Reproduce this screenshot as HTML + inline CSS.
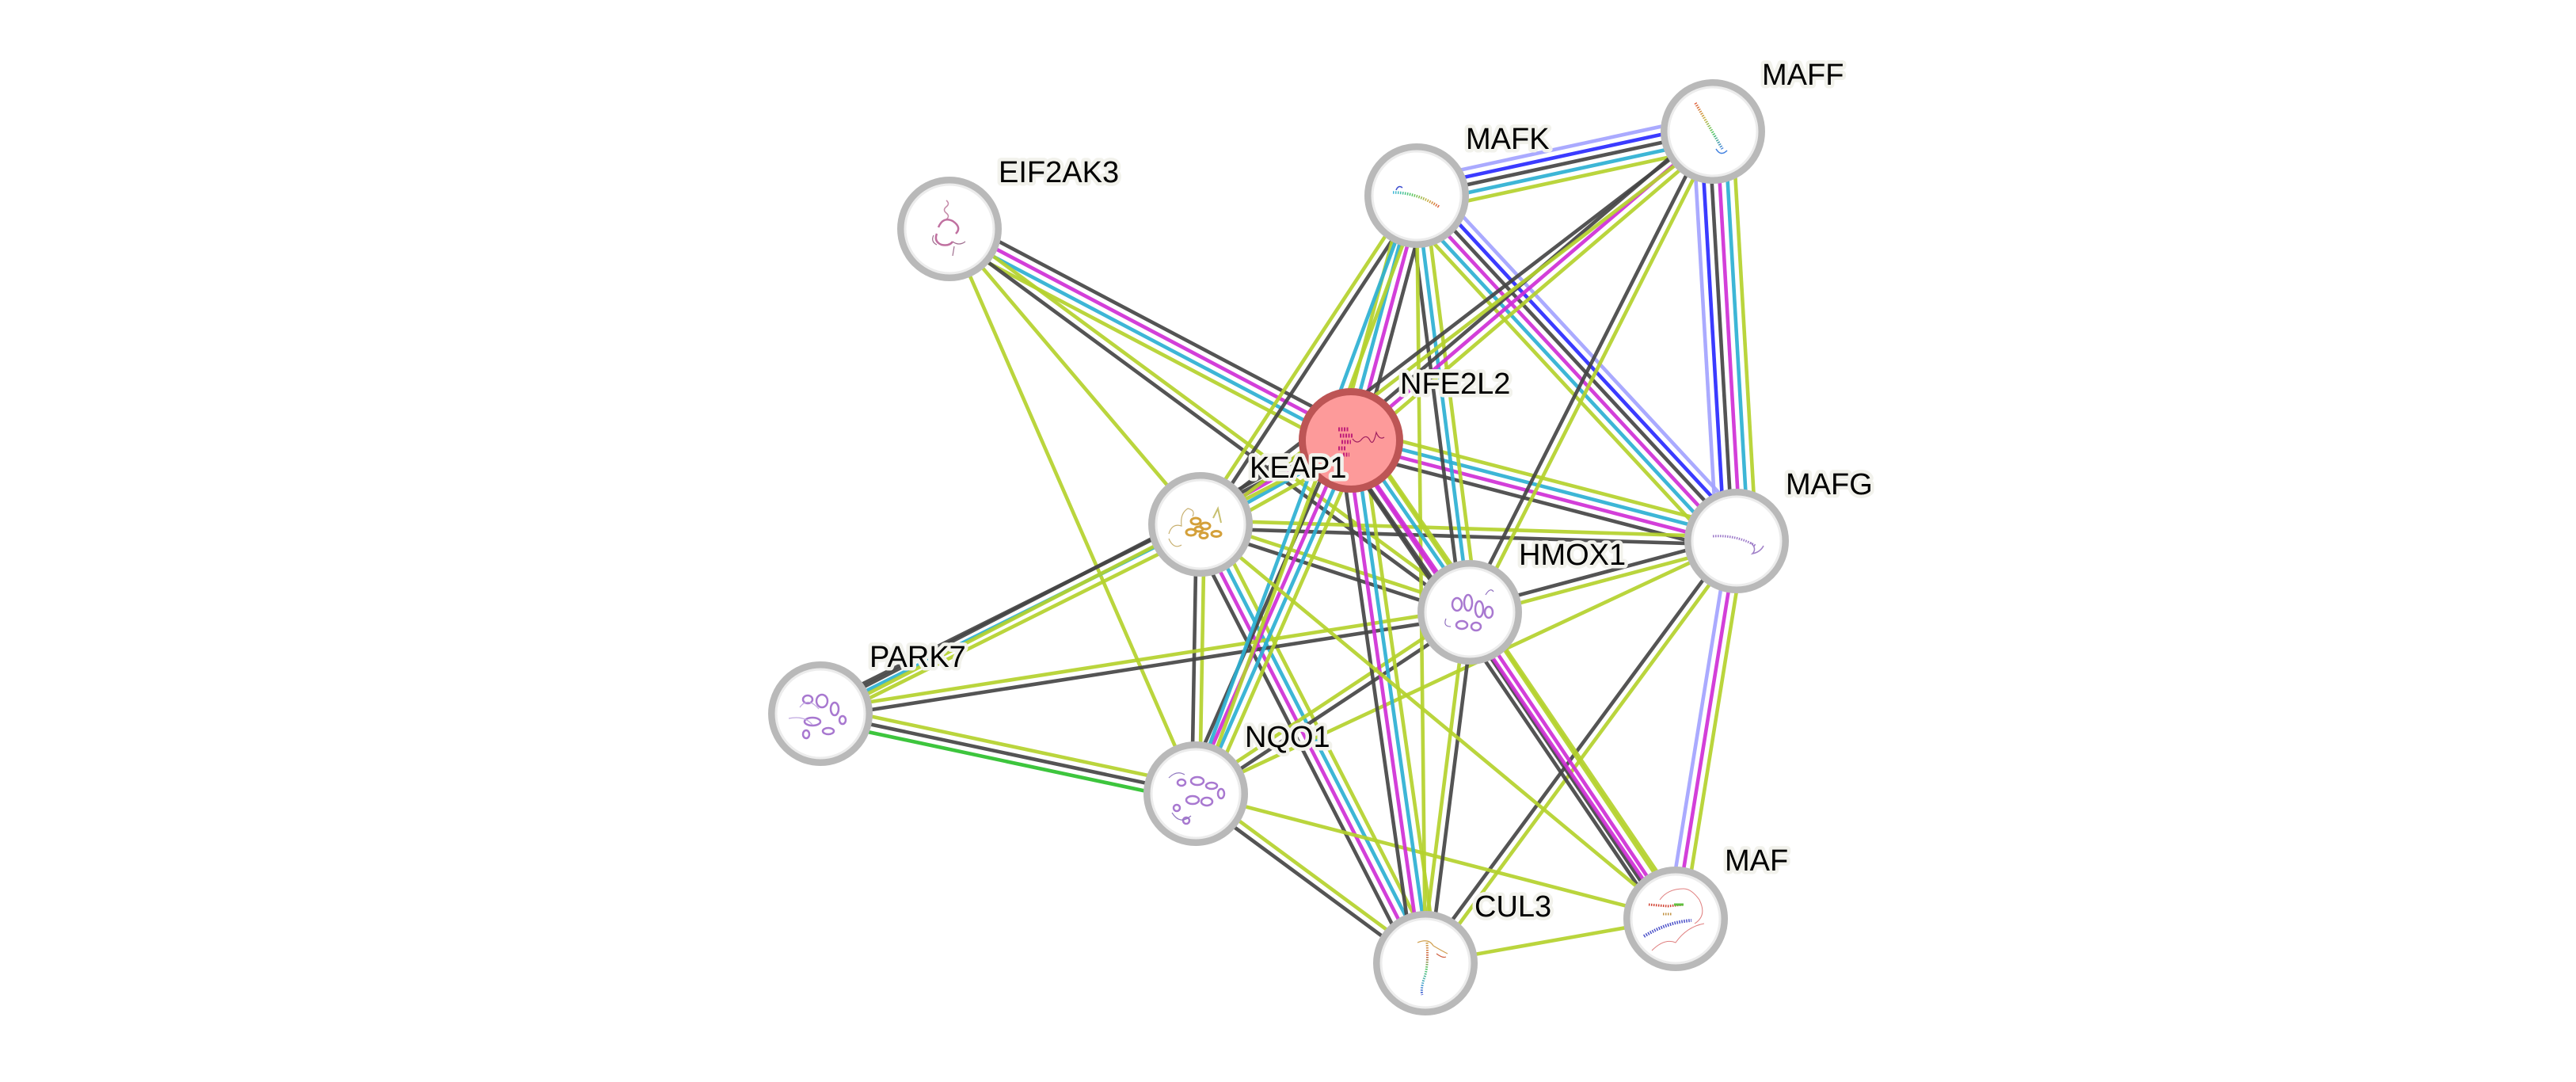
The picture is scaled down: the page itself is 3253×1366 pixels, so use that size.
<!DOCTYPE html>
<html><head><meta charset="utf-8"><style>
html,body{margin:0;padding:0;background:#fff;}
svg{display:block;}
line{stroke-width:4.6;stroke-opacity:0.92;}
.k{stroke:#454545}.m{stroke:#cf2fd6}.c{stroke:#2cb0d2}.g{stroke:#b4d12d}.b{stroke:#2a2aff}.l{stroke:#a3a3ff}.n{stroke:#2cc02c}
.ring{fill:#fff;stroke:#b9b9b9;stroke-width:9}
.lab{font-family:"Liberation Sans",Arial,sans-serif;font-size:38px;fill:#000;stroke:#f2f2ec;stroke-width:9;stroke-linejoin:round;paint-order:stroke;}
</style></head><body>
<svg width="3253" height="1366" viewBox="0 0 3253 1366" xmlns="http://www.w3.org/2000/svg">
<defs>
<linearGradient id="gMafk" x1="0" x2="1" y1="0" y2="0"><stop offset="0" stop-color="#40b8e0"/><stop offset="0.4" stop-color="#50c860"/><stop offset="0.75" stop-color="#c8b040"/><stop offset="1" stop-color="#e06040"/></linearGradient>
<linearGradient id="gMaff" x1="0" x2="1" y1="0" y2="1"><stop offset="0" stop-color="#e06040"/><stop offset="0.35" stop-color="#c8b040"/><stop offset="0.65" stop-color="#50c860"/><stop offset="1" stop-color="#4080e0"/></linearGradient>
<linearGradient id="gCul" x1="0" x2="0" y1="0" y2="1"><stop offset="0" stop-color="#d0a040"/><stop offset="0.25" stop-color="#d06040"/><stop offset="0.5" stop-color="#50c860"/><stop offset="0.8" stop-color="#40a0d0"/><stop offset="1" stop-color="#4050d0"/></linearGradient>
</defs>

<!-- edges -->
<g transform="translate(1199,289) rotate(27.77)"><line class="k" x1="0" x2="573" y1="-15" y2="-15"/><line class="m" x1="0" x2="573" y1="-5" y2="-5"/><line class="c" x1="0" x2="573" y1="5" y2="5"/><line class="g" x1="0" x2="573" y1="15" y2="15"/></g>
<g transform="translate(1856,773) rotate(-143.62)"><line class="k" x1="0" x2="816" y1="-5" y2="-5"/><line class="g" x1="0" x2="816" y1="5" y2="5"/></g>
<g transform="translate(1199,289) rotate(49.64)"><line class="g" x1="0" x2="489.5" y1="0" y2="0"/></g>
<g transform="translate(1199,289) rotate(66.43)"><line class="g" x1="0" x2="777.9" y1="0" y2="0"/></g>
<g transform="translate(1789,247) rotate(-12.22)"><line class="l" x1="0" x2="382.7" y1="-20" y2="-20"/><line class="b" x1="0" x2="382.7" y1="-10" y2="-10"/><line class="k" x1="0" x2="382.7" y1="0" y2="0"/><line class="c" x1="0" x2="382.7" y1="10" y2="10"/><line class="g" x1="0" x2="382.7" y1="20" y2="20"/></g>
<g transform="translate(1789,247) rotate(47.18)"><line class="l" x1="0" x2="594.4" y1="-25" y2="-25"/><line class="b" x1="0" x2="594.4" y1="-15" y2="-15"/><line class="k" x1="0" x2="594.4" y1="-5" y2="-5"/><line class="m" x1="0" x2="594.4" y1="5" y2="5"/><line class="c" x1="0" x2="594.4" y1="15" y2="15"/><line class="g" x1="0" x2="594.4" y1="25" y2="25"/></g>
<g transform="translate(2193,683) rotate(-93.32)"><line class="l" x1="0" x2="517.9" y1="-25" y2="-25"/><line class="b" x1="0" x2="517.9" y1="-15" y2="-15"/><line class="k" x1="0" x2="517.9" y1="-5" y2="-5"/><line class="m" x1="0" x2="517.9" y1="5" y2="5"/><line class="c" x1="0" x2="517.9" y1="15" y2="15"/><line class="g" x1="0" x2="517.9" y1="25" y2="25"/></g>
<g transform="translate(2116,1160) rotate(-80.83)"><line class="l" x1="0" x2="483.2" y1="-10" y2="-10"/><line class="m" x1="0" x2="483.2" y1="0" y2="0"/><line class="g" x1="0" x2="483.2" y1="10" y2="10"/></g>
<g transform="translate(2193,683) rotate(-165.38)"><line class="k" x1="0" x2="503.3" y1="-15" y2="-15"/><line class="m" x1="0" x2="503.3" y1="-5" y2="-5"/><line class="c" x1="0" x2="503.3" y1="5" y2="5"/><line class="g" x1="0" x2="503.3" y1="15" y2="15"/></g>
<g transform="translate(2193,683) rotate(-178.22)"><line class="k" x1="0" x2="677.3" y1="-5" y2="-5"/><line class="g" x1="0" x2="677.3" y1="5" y2="5"/></g>
<g transform="translate(1856,773) rotate(-14.95)"><line class="k" x1="0" x2="348.8" y1="-5" y2="-5"/><line class="g" x1="0" x2="348.8" y1="5" y2="5"/></g>
<g transform="translate(1800,1216) rotate(-53.59)"><line class="k" x1="0" x2="662.2" y1="-5" y2="-5"/><line class="g" x1="0" x2="662.2" y1="5" y2="5"/></g>
<g transform="translate(1510,1002) rotate(-88.99)"><line class="k" x1="0" x2="340.1" y1="-5" y2="-5"/><line class="g" x1="0" x2="340.1" y1="5" y2="5"/></g>
<g transform="translate(1800,1216) rotate(-117.14)"><line class="k" x1="0" x2="622.6" y1="-15" y2="-15"/><line class="m" x1="0" x2="622.6" y1="-5" y2="-5"/><line class="c" x1="0" x2="622.6" y1="5" y2="5"/><line class="g" x1="0" x2="622.6" y1="15" y2="15"/></g>
<g transform="translate(1856,773) rotate(-161.92)"><line class="k" x1="0" x2="357.7" y1="-5" y2="-5"/><line class="g" x1="0" x2="357.7" y1="5" y2="5"/></g>
<g transform="translate(1516,662) rotate(-29.16)"><line class="k" x1="0" x2="217.6" y1="-15" y2="-15"/><line class="m" x1="0" x2="217.6" y1="-5" y2="-5"/><line class="c" x1="0" x2="217.6" y1="5" y2="5"/><line class="g" x1="0" x2="217.6" y1="15" y2="15"/></g>
<g transform="translate(1789,247) rotate(123.34)"><line class="k" x1="0" x2="496.7" y1="-5" y2="-5"/><line class="g" x1="0" x2="496.7" y1="5" y2="5"/></g>
<g transform="translate(1036,901) rotate(-26.47)"><line class="k" x1="0" x2="536.2" y1="-10" y2="-10"/><line class="c" x1="0" x2="536.2" y1="0" y2="0"/><line class="g" x1="0" x2="536.2" y1="10" y2="10"/></g>
<g transform="translate(1036,901) rotate(-27.24)"><line class="k" x1="0" x2="753.6" y1="-5" y2="-5"/><line class="g" x1="0" x2="753.6" y1="5" y2="5"/></g>
<g transform="translate(1856,773) rotate(171.13)"><line class="k" x1="0" x2="829.9" y1="-5" y2="-5"/><line class="g" x1="0" x2="829.9" y1="5" y2="5"/></g>
<g transform="translate(1036,901) rotate(12.03)"><line class="g" x1="0" x2="484.6" y1="-10" y2="-10"/><line class="k" x1="0" x2="484.6" y1="0" y2="0"/><line class="n" x1="0" x2="484.6" y1="10" y2="10"/></g>
<g transform="translate(1510,1002) rotate(-66.28)"><line class="k" x1="0" x2="487.2" y1="-15" y2="-15"/><line class="m" x1="0" x2="487.2" y1="-5" y2="-5"/><line class="c" x1="0" x2="487.2" y1="5" y2="5"/><line class="g" x1="0" x2="487.2" y1="15" y2="15"/></g>
<g transform="translate(1856,773) rotate(146.5)"><line class="k" x1="0" x2="414.9" y1="-5" y2="-5"/><line class="g" x1="0" x2="414.9" y1="5" y2="5"/></g>
<g transform="translate(1800,1216) rotate(-143.58)"><line class="k" x1="0" x2="360.4" y1="-5" y2="-5"/><line class="g" x1="0" x2="360.4" y1="5" y2="5"/></g>
<g transform="translate(1510,1002) rotate(14.61)"><line class="g" x1="0" x2="626.3" y1="0" y2="0"/></g>
<g transform="translate(1510,1002) rotate(-25.04)"><line class="g" x1="0" x2="753.8" y1="0" y2="0"/></g>
<g transform="translate(1800,1216) rotate(-98.11)"><line class="k" x1="0" x2="666.7" y1="-15" y2="-15"/><line class="m" x1="0" x2="666.7" y1="-5" y2="-5"/><line class="c" x1="0" x2="666.7" y1="5" y2="5"/><line class="g" x1="0" x2="666.7" y1="15" y2="15"/></g>
<g transform="translate(1856,773) rotate(97.2)"><line class="k" x1="0" x2="446.5" y1="-5" y2="-5"/><line class="g" x1="0" x2="446.5" y1="5" y2="5"/></g>
<g transform="translate(1856,773) rotate(-97.26)"><line class="k" x1="0" x2="530.3" y1="-10" y2="-10"/><line class="c" x1="0" x2="530.3" y1="0" y2="0"/><line class="g" x1="0" x2="530.3" y1="10" y2="10"/></g>
<g transform="translate(1789,247) rotate(105.04)"><line class="k" x1="0" x2="320" y1="-15" y2="-15"/><line class="m" x1="0" x2="320" y1="-5" y2="-5"/><line class="c" x1="0" x2="320" y1="5" y2="5"/><line class="g" x1="0" x2="320" y1="15" y2="15"/></g>
<g transform="translate(1789,247) rotate(110.28)"><line class="g" x1="0" x2="804.9" y1="-5" y2="-5"/><line class="c" x1="0" x2="804.9" y1="5" y2="5"/></g>
<g transform="translate(1789,247) rotate(89.35)"><line class="g" x1="0" x2="969.1" y1="0" y2="0"/></g>
<g transform="translate(1856,773) rotate(-63.17)"><line class="k" x1="0" x2="680.2" y1="-5" y2="-5"/><line class="g" x1="0" x2="680.2" y1="5" y2="5"/></g>
<g transform="translate(1706,556) rotate(-40.48)"><line class="k" x1="0" x2="600.8" y1="-10" y2="-10"/><line class="m" x1="0" x2="600.8" y1="0" y2="0"/><line class="g" x1="0" x2="600.8" y1="10" y2="10"/></g>
<g transform="translate(1516,662) rotate(-37.48)"><line class="k" x1="0" x2="815.3" y1="-5" y2="-5"/><line class="g" x1="0" x2="815.3" y1="5" y2="5"/></g>
<g transform="translate(1856,773) rotate(-124.65)"><line class="k" x1="0" x2="263.8" y1="-15" y2="-15"/><line class="m" x1="0" x2="263.8" y1="-5" y2="-5"/><line class="c" x1="0" x2="263.8" y1="5" y2="5"/><line class="g" x1="0" x2="263.8" y1="15" y2="15"/></g>
<g transform="translate(2116,1160) rotate(-123.89)"><line class="k" x1="0" x2="466.2" y1="-10" y2="-10"/><line class="m" x1="0" x2="466.2" y1="0" y2="0"/><line class="g" x1="0" x2="466.2" y1="10" y2="10"/></g>
<g transform="translate(2116,1160) rotate(-124.17)"><line class="k" x1="0" x2="730" y1="-16" y2="-16"/><line class="m" x1="0" x2="730" y1="-6" y2="-6"/><line class="g" x1="0" x2="730" y1="14" y2="14"/></g>
<g transform="translate(1516,662) rotate(39.69)"><line class="g" x1="0" x2="779.7" y1="0" y2="0"/></g>
<g transform="translate(1800,1216) rotate(-10.05)"><line class="g" x1="0" x2="320.9" y1="0" y2="0"/></g>

<!-- nodes -->
<g transform="translate(1199,289)"><circle class="ring" r="61.5"/><circle r="56" fill="none" stroke="#ececec" stroke-width="3"/>
<path d="M-4,-36 q5,4 0,8 q-5,4 0,8 q5,4 0,8" fill="none" stroke="#c58aa8" stroke-width="1.5"/>
<path d="M-14,-2 q6,-14 18,-8 q12,8 4,16 M-16,6 q-4,10 6,14 q10,2 14,-4" fill="none" stroke="#c070a0" stroke-width="2.5"/>
<path d="M-20,8 q-4,8 4,12 M4,16 q8,6 16,0 M6,22 l-2,12" fill="none" stroke="#a07090" stroke-width="1.2"/></g>

<g transform="translate(1789,247)"><circle class="ring" r="61.5"/><circle r="56" fill="none" stroke="#ececec" stroke-width="3"/>
<path d="M-30,-4 Q0,-4 28,14" fill="none" stroke="url(#gMafk)" stroke-width="3.5" stroke-dasharray="1.5 1.5"/>
<path d="M-26,-7 q3,-7 8,-3" fill="none" stroke="#4050d0" stroke-width="1.5"/></g>

<g transform="translate(2163,166)"><circle class="ring" r="61.5"/><circle r="56" fill="none" stroke="#ececec" stroke-width="3"/>
<path d="M-22,-36 L12,22" fill="none" stroke="url(#gMaff)" stroke-width="3.5" stroke-dasharray="1.5 1.5"/>
<path d="M4,22 q6,10 14,2" fill="none" stroke="#4080e0" stroke-width="1.5"/></g>

<g transform="translate(1706,556)"><circle r="61.5" fill="#fd9a9a" stroke="#bd5555" stroke-width="9"/>
<path d="M-16,-14 h14 M-14,-6 h16 M-12,2 h12 M-16,10 h10 M-10,18 h8" stroke="#c01e78" stroke-width="5" stroke-dasharray="2 1.5"/>
<path d="M2,-2 q6,8 12,0 q6,-6 10,2 q4,8 8,-10 q4,10 10,6" fill="none" stroke="#a02060" stroke-width="1.2"/></g>

<g transform="translate(1516,662)"><circle class="ring" r="61.5"/><circle r="56" fill="none" stroke="#ececec" stroke-width="3"/>
<path d="M-40,12 q4,-14 16,-10 q-2,-16 8,-22 q10,2 6,10 M-24,26 q-10,6 -16,-8" fill="none" stroke="#c8b070" stroke-width="1.2"/>
<g fill="none" stroke="#d4a03a" stroke-width="3"><ellipse cx="-6" cy="-4" rx="6" ry="4"/><ellipse cx="6" cy="2" rx="6" ry="4"/><ellipse cx="-12" cy="10" rx="6" ry="4"/><ellipse cx="20" cy="12" rx="6" ry="3.5"/><ellipse cx="4" cy="14" rx="5" ry="3.5"/><ellipse cx="-2" cy="6" rx="5" ry="3"/></g>
<path d="M16,-8 l6,-12 l4,18" fill="none" stroke="#c8c070" stroke-width="2"/></g>

<g transform="translate(2193,683)"><circle class="ring" r="61.5"/><circle r="56" fill="none" stroke="#ececec" stroke-width="3"/>
<path d="M-30,-6 Q0,-8 24,6" fill="none" stroke="#9b78c8" stroke-width="3" stroke-dasharray="1.5 1.5"/>
<path d="M18,2 q8,8 2,14 q10,-2 14,-10" fill="none" stroke="#a080c8" stroke-width="1.5"/></g>

<g transform="translate(1856,773)"><circle class="ring" r="61.5"/><circle r="56" fill="none" stroke="#ececec" stroke-width="3"/>
<g fill="none" stroke="#a878d0" stroke-width="2.5"><ellipse cx="-16" cy="-10" rx="6" ry="8"/><ellipse cx="-2" cy="-12" rx="5" ry="10"/><ellipse cx="12" cy="-4" rx="5" ry="10"/><ellipse cx="-10" cy="16" rx="7" ry="5"/><ellipse cx="8" cy="18" rx="6" ry="5"/><ellipse cx="24" cy="0" rx="5" ry="7"/></g>
<path d="M-30,8 q-4,10 6,10 M20,-22 q6,-10 10,-4" fill="none" stroke="#9070c0" stroke-width="1.2"/></g>

<g transform="translate(1036,901)"><circle class="ring" r="61.5"/><circle r="56" fill="none" stroke="#ececec" stroke-width="3"/>
<g fill="none" stroke="#a878d0" stroke-width="2.5"><ellipse cx="-16" cy="-18" rx="6" ry="5"/><ellipse cx="2" cy="-16" rx="7" ry="8"/><ellipse cx="18" cy="-6" rx="5" ry="8"/><ellipse cx="-10" cy="10" rx="10" ry="5"/><ellipse cx="-18" cy="26" rx="4" ry="5"/><ellipse cx="10" cy="22" rx="7" ry="4"/><ellipse cx="28" cy="8" rx="4" ry="5"/></g>
<path d="M-40,6 q20,-4 30,8 M-26,-8 q10,-14 24,2" fill="none" stroke="#c0a8e0" stroke-width="1.2"/></g>

<g transform="translate(1510,1002)"><circle class="ring" r="61.5"/><circle r="56" fill="none" stroke="#ececec" stroke-width="3"/>
<g fill="none" stroke="#a878d0" stroke-width="2.5"><ellipse cx="-18" cy="-14" rx="5" ry="4"/><ellipse cx="2" cy="-16" rx="8" ry="5"/><ellipse cx="20" cy="-10" rx="7" ry="4"/><ellipse cx="32" cy="0" rx="4" ry="6"/><ellipse cx="-4" cy="8" rx="8" ry="5"/><ellipse cx="14" cy="10" rx="7" ry="5"/><ellipse cx="-24" cy="18" rx="4" ry="4"/><ellipse cx="-12" cy="34" rx="4" ry="4"/></g>
<path d="M-34,-20 q10,-10 20,-4 M-30,24 q10,16 24,4" fill="none" stroke="#9078c0" stroke-width="1.2"/></g>

<g transform="translate(2116,1160)"><circle class="ring" r="61.5"/><circle r="56" fill="none" stroke="#ececec" stroke-width="3"/>
<path d="M-34,-18 L-10,-16 L10,-18" fill="none" stroke="#d04030" stroke-width="3" stroke-dasharray="1.5 1.5"/>
<path d="M-2,-18 L10,-18" stroke="#60c040" stroke-width="3"/>
<path d="M-16,-6 h12" stroke="#c09040" stroke-width="3" stroke-dasharray="1.5 1.5"/>
<path d="M-40,22 Q-10,4 20,2" fill="none" stroke="#4a50c8" stroke-width="4" stroke-dasharray="1.5 1.5"/>
<path d="M-20,-24 q10,-14 30,-14 q10,0 20,14 q10,20 -6,30 M-30,40 q16,-16 30,-10 q14,-20 36,-24" fill="none" stroke="#e08080" stroke-width="1"/></g>

<g transform="translate(1800,1216)"><circle class="ring" r="61.5"/><circle r="56" fill="none" stroke="#ececec" stroke-width="3"/>
<path d="M2,-26 Q4,6 -2,20 Q-6,34 -4,40" fill="none" stroke="url(#gCul)" stroke-width="3" stroke-dasharray="1.5 1.5"/>
<path d="M-10,-26 q14,-6 20,4 q10,6 18,10" fill="none" stroke="#d0a050" stroke-width="1.2"/>
<path d="M14,-12 q8,6 12,4" fill="none" stroke="#d06040" stroke-width="1.2"/></g>

<!-- labels -->
<text class="lab" x="1261" y="230">EIF2AK3</text>
<text class="lab" x="1851" y="188">MAFK</text>
<text class="lab" x="2225" y="107">MAFF</text>
<text class="lab" x="1768" y="497">NFE2L2</text>
<text class="lab" x="1578" y="603">KEAP1</text>
<text class="lab" x="2255" y="624">MAFG</text>
<text class="lab" x="1918" y="713">HMOX1</text>
<text class="lab" x="1098" y="842">PARK7</text>
<text class="lab" x="1572" y="943">NQO1</text>
<text class="lab" x="2178" y="1099">MAF</text>
<text class="lab" x="1862" y="1157">CUL3</text>
</svg>
</body></html>
